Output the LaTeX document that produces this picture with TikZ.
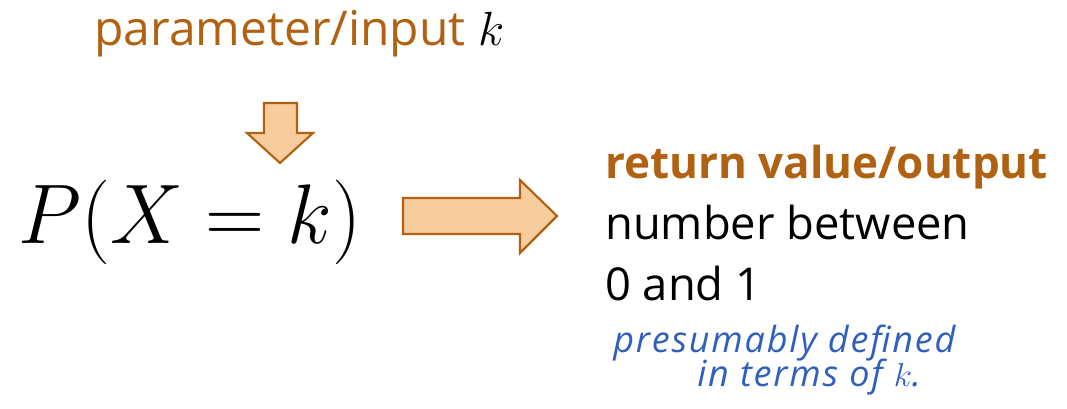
\documentclass[tikz,border=0pt]{standalone}
\usepackage{fontspec}
\setmainfont{Open Sans}
\definecolor{brn}{RGB}{176,98,18}
\definecolor{peach}{RGB}{247,205,158}
\definecolor{ink}{RGB}{48,96,190}
\tikzset{
  blockarrow/.style={draw=brn, fill=peach, line width=1.6pt, line join=miter},
  lbl/.style={inner sep=0pt, anchor=base west},
  head/.style={lbl, text=brn},
  hand/.style={lbl, text=ink, font=\fontsize{27}{27}\selectfont\itshape\addfontfeature{LetterSpace=5}}
}
\begin{document}
\begin{tikzpicture}[x=0.75pt,y=-0.75pt]
\useasboundingbox (0,0) rectangle (1067,409);
% top label
\node[head, font=\fontsize{36}{36}\selectfont] (param) at (94,46) {parameter/input \textcolor{black}{\scalebox{1.447}{$k$}}};
% down arrow
\draw[blockarrow] (264,103) -- (297,103) -- (297,133) -- (313,133) -- (280,163) -- (247,133) -- (264,133) -- cycle;
% formula
\node[lbl, font=\fontsize{24.88}{25}\selectfont] (formula) at (18,244) {\scalebox{2.47}[2.55]{$P(X=k)$}};
% right arrow
\draw[blockarrow] (403,198) -- (520,198) -- (520,180) -- (557,216) -- (520,253) -- (520,234) -- (403,234) -- cycle;
% output text
\node[head, font=\fontsize{33}{33}\selectfont\bfseries] (ret) at (605,179) {return value/output};
\node[lbl, font=\fontsize{34}{34}\selectfont] (num) at (605,240) {number between};
\node[lbl, font=\fontsize{34}{34}\selectfont] (zero) at (605,301) {0 and 1};
% handwritten note
\node[hand] (note1) at (613,353) {presumably defined};
\node[hand] (note2) at (697,387) {in terms of $k$.};
\end{tikzpicture}
\end{document}
